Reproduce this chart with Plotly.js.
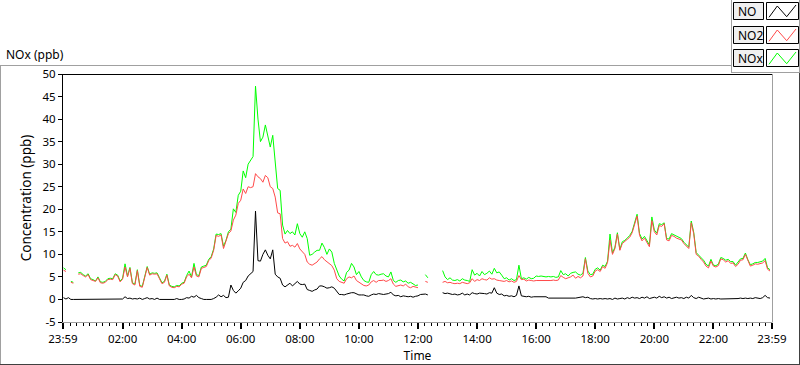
<!DOCTYPE html>
<html>
<head>
<meta charset="utf-8">
<script src="https://cdn.plot.ly/plotly-3.0.1.min.js"></script>
<style>html,body{margin:0;padding:0;background:#fff;}#chart{width:800px;height:365px;}</style>
</head>
<body>
<div id="chart"></div>
<script>
// 5-minute samples, 00:00 .. 23:55 (one row per hour, 12 values each)
const no2 = [
  6.5, 6.2, null, 3.8, 3.6, null, 5.6, 5.7, 5.3, 5.0, 5.5, 4.4,
  4.2, 4.0, 4.8, 3.7, 3.6, 3.8, 4.4, 4.5, 4.4, 5.5, 5.2, 3.9,
  4.5, 7.2, 5.0, 6.9, 3.5, 3.2, 6.4, 2.9, 2.7, 4.6, 7.1, 5.4,
  5.7, 5.6, 5.7, 4.6, 3.5, 3.8, 5.4, 3.0, 2.7, 2.6, 2.9, 2.8,
  3.4, 3.6, 5.0, 5.6, 4.8, 7.2, 5.2, 5.0, 6.9, 7.1, 7.3, 8.6,
  9.2, 10.9, 14.2, 14.0, 14.3, 11.3, 12.8, 14.6, 15.2, 17.6, 18.7, 21.3,
  22.0, 24.5, 23.5, 25.0, 24.8, 25.0, 27.9, 27.2, 26.8, 26.0, 27.5, 27.0,
  25.0, 24.6, 22.7, 19.2, 19.0, 13.5, 12.5, 12.8, 11.8, 12.0, 11.6, 12.4,
  11.2, 10.5, 10.0, 8.3, 7.8, 7.6, 8.0, 8.3, 9.0, 9.5, 8.8, 8.3,
  8.0, 7.5, 6.5, 4.6, 4.0, 3.8, 3.6, 4.6, 5.0, 4.8, 5.2, 4.2,
  3.8, 3.5, 3.1, 3.0, 3.2, 3.9, 4.2, 3.8, 4.2, 4.2, 4.3, 4.0,
  4.2, 4.6, 3.4, 2.9, 3.1, 3.2, 3.0, 3.4, 2.8, 2.6, 2.9, 2.7,
  2.6, null, null, 4.0, 3.8, null, null, null, null, null, 3.8, 4.0,
  3.7, 3.8, 3.6, 3.5, 3.6, 3.5, 3.8, 3.6, 3.5, 3.7, 4.6, 4.0,
  4.4, 4.2, 4.6, 4.4, 4.3, 4.8, 4.5, 4.6, 4.3, 4.2, 4.1, 4.0,
  4.2, 3.9, 4.1, 3.8, 4.0, 5.3, 4.4, 4.5, 4.1, 4.3, 4.2, 4.1,
  4.2, 4.2, 4.1, 4.2, 4.2, 4.1, 4.2, 4.3, 4.2, 4.3, 5.3, 4.9,
  4.6, 4.8, 5.0, 5.4, 4.7, 5.1, 4.8, 5.2, 9.0, 5.8, 5.0, 5.2,
  6.3, 6.6, 6.2, 7.3, 6.9, 8.2, 13.2, 10.0, 11.3, 14.5, 10.9, 12.4,
  12.9, 13.2, 13.8, 14.8, 16.8, 18.5, 14.2, 13.0, 13.6, 12.6, 11.7, 17.5,
  15.0, 14.3, 16.4, 16.2, 16.8, 13.2, 13.0, 14.2, 14.0, 13.6, 13.4, 13.2,
  12.4, 11.8, 11.3, 17.0, 14.6, 10.0, 9.6, 8.9, 8.3, 7.4, 7.0, 8.5,
  7.4, 7.2, 7.5, 9.0, 8.8, 8.3, 8.6, 8.0, 8.1, 7.3, 7.8, 8.7,
  8.8, 10.0, 8.5, 7.4, 7.6, 7.9, 7.8, 8.0, 8.1, 8.6, 6.7, 6.3
];
const nox = [
  7.0, 6.6, null, 4.0, 3.8, null, 5.9, 6.0, 5.5, 5.2, 5.7, 4.6,
  4.4, 4.1, 5.0, 3.9, 3.8, 4.0, 4.6, 4.7, 4.6, 5.7, 5.4, 4.1,
  4.7, 7.9, 5.2, 7.1, 3.7, 3.4, 6.6, 3.1, 2.9, 4.8, 7.3, 5.6,
  5.9, 5.8, 5.9, 4.8, 3.7, 4.0, 5.6, 3.2, 2.9, 2.8, 3.1, 3.0,
  3.6, 3.8, 5.3, 6.3, 5.0, 8.0, 5.5, 5.3, 7.2, 7.4, 7.6, 8.9,
  9.5, 11.2, 14.5, 14.4, 14.6, 11.8, 13.1, 15.0, 15.6, 20.1, 19.3, 23.1,
  24.0, 28.5, 27.0, 30.0, 30.8, 31.7, 47.3, 40.0, 35.0, 36.0, 38.7, 36.0,
  33.8, 36.4, 30.0, 24.6, 24.2, 16.5, 14.5, 15.3, 14.6, 15.0, 14.3, 16.8,
  14.6, 13.8, 15.0, 13.5, 9.8, 10.0, 10.5, 10.9, 10.9, 12.5, 11.5, 10.0,
  11.2, 10.5, 8.0, 6.5, 5.2, 4.5, 4.1, 6.0, 6.5, 8.0, 7.2, 5.5,
  6.2, 5.0, 4.2, 3.9, 3.8, 5.5, 6.2, 5.5, 5.4, 5.6, 5.7, 5.2,
  5.0, 6.1, 4.2, 3.8, 4.2, 4.3, 3.9, 4.1, 3.6, 3.8, 3.5, 3.1,
  3.2, null, null, 5.5, 4.8, null, null, null, null, null, 6.4, 5.0,
  4.4, 4.8, 4.3, 4.2, 4.4, 4.1, 4.6, 4.3, 4.2, 4.0, 6.6, 5.4,
  5.8, 5.2, 6.2, 5.5, 5.8, 6.3, 5.6, 6.9, 5.9, 6.1, 5.4, 4.6,
  4.8, 4.3, 4.6, 4.2, 4.4, 7.6, 4.6, 4.8, 4.5, 4.9, 4.6, 4.7,
  5.2, 5.1, 5.2, 5.1, 5.0, 5.1, 5.0, 5.1, 4.9, 5.0, 6.4, 5.5,
  5.7, 5.2, 5.8, 6.0, 6.1, 5.6, 5.4, 5.8, 9.3, 6.3, 5.5, 5.6,
  6.7, 7.0, 6.5, 7.6, 7.3, 8.5, 14.5, 10.3, 11.6, 14.8, 11.1, 12.8,
  13.1, 13.6, 14.2, 15.1, 17.2, 18.9, 14.6, 13.4, 14.0, 13.0, 12.1, 18.3,
  15.4, 14.7, 16.8, 16.6, 17.0, 13.5, 13.4, 14.6, 14.3, 14.0, 13.8, 13.5,
  12.7, 12.1, 11.6, 17.4, 14.9, 10.4, 9.9, 9.2, 8.7, 7.8, 7.4, 8.9,
  7.6, 7.5, 7.8, 9.3, 9.1, 8.7, 8.9, 8.4, 8.4, 7.6, 8.2, 9.0,
  9.1, 10.3, 8.8, 7.7, 7.9, 8.2, 8.2, 8.3, 8.5, 9.1, 7.0, 6.6
];
const no = [
  0.4, 0.1, 0.4, 0.0, 0.0, 0.0, 0.0, 0.0, 0.0, 0.0, 0.0, 0.0,
  0.0, 0.1, 0.0, 0.0, 0.0, 0.0, 0.0, 0.0, 0.0, 0.0, 0.0, 0.0,
  0.1, 0.6, 0.2, 0.3, 0.1, 0.2, 0.1, 0.3, 0.0, 0.2, 0.4, 0.1,
  0.2, 0.0, 0.3, 0.0, 0.0, 0.0, 0.0, 0.0, 0.0, 0.0, 0.2, 0.0,
  0.0, 0.1, 0.4, 0.3, 0.7, 0.5, 0.9, 0.4, 0.2, 0.0, 0.0, 0.0,
  0.0, 0.2, 0.5, 1.0, 0.6, 0.9, 0.4, 0.5, 3.2, 2.0, 1.4, 1.9,
  2.5, 3.8, 4.2, 5.2, 5.8, 6.2, 19.6, 8.6, 8.5, 10.0, 11.0, 9.8,
  9.0, 11.0, 5.6, 5.0, 4.7, 3.2, 2.8, 3.3, 3.6, 3.0, 3.4, 4.0,
  3.4, 3.3, 3.4, 2.2, 2.0, 1.8, 2.1, 2.3, 3.0, 3.0, 2.8, 2.5,
  2.6, 2.8, 2.5, 1.9, 1.1, 1.1, 1.0, 1.2, 1.4, 1.5, 1.5, 1.2,
  1.0, 1.0, 1.0, 0.8, 0.7, 1.0, 1.2, 1.1, 1.3, 1.2, 1.1, 1.2,
  1.3, 1.6, 1.0, 0.8, 0.9, 0.6, 0.8, 0.7, 0.6, 0.7, 0.5, 0.7,
  0.8, 1.1, 1.2, 1.2, 1.0, null, null, null, null, null, 1.5, 1.3,
  1.4, 1.2, 1.1, 1.2, 1.0, 1.1, 1.4, 1.0, 1.2, 1.0, 1.5, 1.3,
  1.2, 1.4, 1.4, 1.3, 1.2, 1.5, 1.4, 2.6, 1.4, 1.1, 1.2, 0.8,
  0.9, 0.7, 0.8, 0.6, 0.9, 3.0, 0.8, 0.7, 0.6, 0.7, 0.5, 0.6,
  0.6, 0.5, 0.6, 0.5, 0.6, 0.3, 0.3, 0.3, 0.3, 0.3, 0.3, 0.3,
  0.2, 0.3, 0.3, 0.3, 0.3, 0.4, 0.5, 0.6, 0.4, 0.5, 0.2, 0.1,
  0.2, 0.1, 0.2, 0.1, 0.2, 0.1, 0.2, 0.0, 0.3, 0.1, 0.2, 0.3,
  0.1, 0.4, 0.2, 0.5, 0.3, 0.4, 0.2, 0.5, 0.3, 0.6, 0.2, 0.4,
  0.5, 0.3, 0.7, 0.4, 0.6, 0.3, 0.5, 0.2, 0.4, 0.5, 0.3, 0.4,
  0.2, 0.5, 0.3, 0.9, 0.4, 0.2, 0.5, 0.3, 0.1, 0.2, 0.3, 0.1,
  0.2, 0.1, 0.2, 0.1, 0.1, 0.2, 0.1, 0.2, 0.1, 0.2, 0.2, 0.3,
  0.2, 0.3, 0.2, 0.3, 0.2, 0.4, 0.3, 0.2, 0.4, 0.9, 0.4, 0.3
];
const seriesNames = ['NO', 'NO2', 'NOx'];
const seriesColors = ['#000000', '#ff4a4a', '#00ff00'];
const xTickVals = ['2024-01-01 23:59', '2024-01-02 02:00', '2024-01-02 04:00', '2024-01-02 06:00',
  '2024-01-02 08:00', '2024-01-02 10:00', '2024-01-02 12:00', '2024-01-02 14:00', '2024-01-02 16:00',
  '2024-01-02 18:00', '2024-01-02 20:00', '2024-01-02 22:00', '2024-01-02 23:59'];
const xTickText = ['23:59', '02:00', '04:00', '06:00', '08:00', '10:00', '12:00', '14:00', '16:00',
  '18:00', '20:00', '22:00', '23:59'];
const yTickVals = [-5, 0, 5, 10, 15, 20, 25, 30, 35, 40, 45, 50];
const yTickText = ['-5', '0', '5', '10', '15', '20', '25', '30', '35', '40', '45', '50'];

// time stamps for each 5-minute sample
const pad = n => String(n).padStart(2, '0');
const times = no2.map((_, i) => '2024-01-02 ' + pad(Math.floor(i * 5 / 60)) + ':' + pad((i * 5) % 60));

const FONT = 'Noto Sans, Segoe UI, Arial, sans-serif';
const traces = [
  {x: times, y: nox, name: 'NOx', type: 'scatter', mode: 'lines', line: {color: seriesColors[2], width: 1}},
  {x: times, y: no2, name: 'NO2', type: 'scatter', mode: 'lines', line: {color: seriesColors[1], width: 1}},
  {x: times, y: no,  name: 'NO',  type: 'scatter', mode: 'lines', line: {color: seriesColors[0], width: 1}}
];

// pixel -> paper helpers for the decorative frame and custom legend
const PL = 63, PW = 709, PT = 74, PH = 248;
const px = x => (x - PL) / PW;
const py = y => (PT + PH - y) / PH;
function ln(x0, y0, x1, y1, c) {
  return {type: 'line', xref: 'paper', yref: 'paper', x0: px(x0), y0: py(y0), x1: px(x1), y1: py(y1),
    line: {color: c, width: 1}, layer: 'above'};
}
function rect(x0, y0, x1, y1, fill, c) {
  return {type: 'rect', xref: 'paper', yref: 'paper', x0: px(x0), y0: py(y0), x1: px(x1), y1: py(y1),
    fillcolor: fill, line: {color: c, width: 1}, layer: 'above'};
}
const shapes = [
  ln(63, 74.5, 773, 74.5, '#000000'),
  ln(772.5, 74, 772.5, 322.5, '#a0a0a0'),
  ln(0, 65.5, 731, 65.5, '#a0a0a0'),
  ln(0.5, 65, 0.5, 364, '#a0a0a0'),
  ln(0, 364.5, 800, 364.5, '#404040'),
  ln(799.5, 72, 799.5, 365, '#404040'),
  ln(731.5, 0, 731.5, 72, '#a0a0a0'),
  ln(731, 72.5, 800, 72.5, '#a0a0a0'),
  ln(799.5, 0, 799.5, 72, '#a0a0a0')
];
const annotations = [
  {text: 'NOx (ppb)', xref: 'paper', yref: 'paper', x: px(4), y: py(55), xanchor: 'left', yanchor: 'middle',
    showarrow: false, font: {family: FONT, size: 12, color: '#000'}}
];
const rowTops = [2.5, 26.5, 49.5];
seriesNames.forEach((nm, r) => {
  const t = rowTops[r];
  shapes.push(rect(733.5, t, 763.5, t + 17, '#f0f0f0', '#000'));
  shapes.push(rect(766.5, t, 798.5, t + 17, '#ffffff', '#000'));
  const p = [[769, t + 14.8], [777.3, t + 3.5], [786.7, t + 14.2], [796, t + 2.5]];
  shapes.push({type: 'path', xref: 'paper', yref: 'paper', layer: 'above',
    path: 'M' + p.map(q => px(q[0]) + ',' + py(q[1])).join(' L'),
    line: {color: seriesColors[r], width: 1}});
  annotations.push({text: nm, xref: 'paper', yref: 'paper', x: px(736), y: py(t + 8.8), xanchor: 'left',
    yanchor: 'middle', showarrow: false, font: {family: FONT, size: 12, color: '#000'}});
});

const layout = {
  width: 800, height: 365,
  margin: {l: 63, r: 28, t: 74, b: 43, pad: 0},
  paper_bgcolor: '#ffffff', plot_bgcolor: '#ffffff',
  showlegend: false,
  font: {family: FONT, size: 12, color: '#000'},
  xaxis: {
    type: 'date',
    range: ['2024-01-01 23:59', '2024-01-02 23:59'],
    tickmode: 'array', tickvals: xTickVals, ticktext: xTickText,
    ticks: 'outside', ticklen: 6, tickwidth: 2, tickcolor: '#000',
    minor: {tickmode: 'linear', tick0: '2024-01-02 00:00', dtick: 800000, ticks: 'outside',
      ticklen: 3, tickwidth: 1, tickcolor: '#000', showgrid: false},
    showline: true, linecolor: '#a0a0a0', linewidth: 1,
    showgrid: false, zeroline: false,
    tickfont: {family: FONT, size: 11.5, color: '#000'},
    title: {text: 'Time', font: {family: FONT, size: 12, color: '#000'}, standoff: 6}
  },
  yaxis: {
    range: [-5, 50],
    tickmode: 'array', tickvals: yTickVals, ticktext: yTickText,
    ticks: 'outside', ticklen: 4, tickwidth: 1, tickcolor: '#000',
    showline: true, linecolor: '#000', linewidth: 1,
    showgrid: false, zeroline: false,
    tickfont: {family: FONT, size: 11.5, color: '#000'},
    title: {text: 'Concentration (ppb)', font: {family: FONT, size: 13.5, color: '#000'}, standoff: 7}
  },
  shapes: shapes,
  annotations: annotations
};

Plotly.newPlot('chart', traces, layout, {displayModeBar: false, staticPlot: true});
</script>
</body>
</html>
